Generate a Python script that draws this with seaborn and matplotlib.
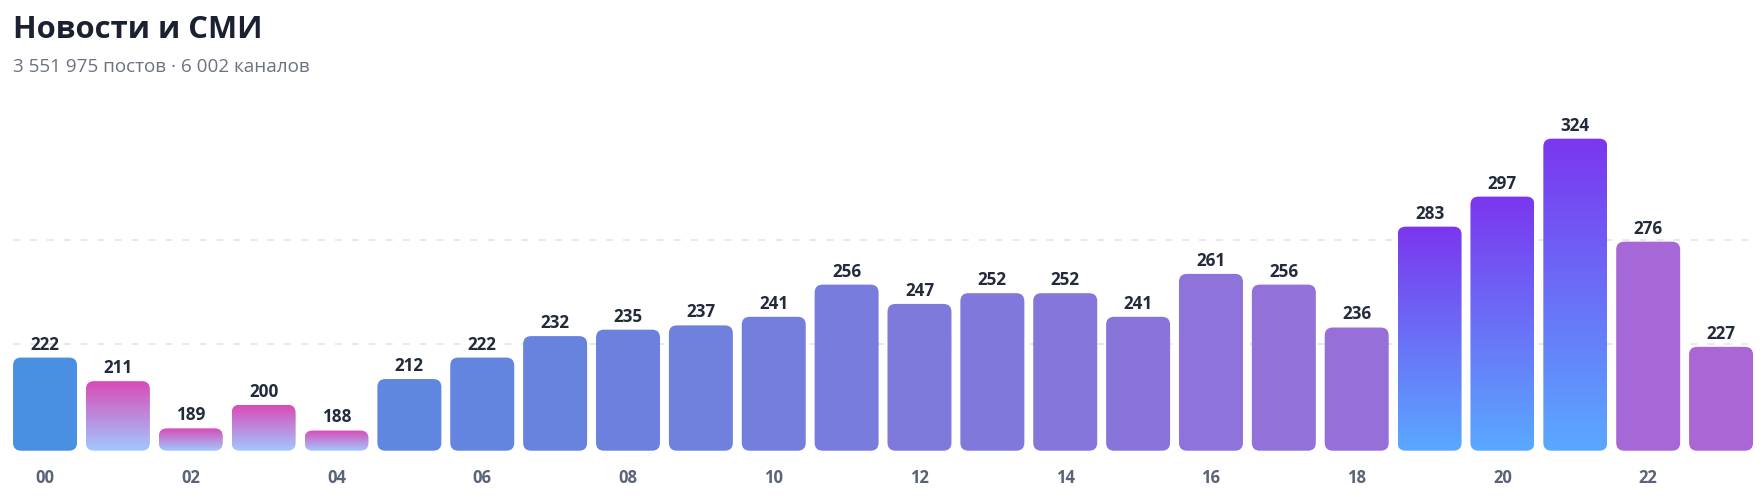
import numpy as np
import pandas as pd
import matplotlib
matplotlib.use("Agg")
import matplotlib.pyplot as plt
import seaborn as sns
from matplotlib.patches import FancyBboxPatch
from matplotlib.transforms import IdentityTransform
from matplotlib.colors import LinearSegmentedColormap, to_rgb

# ---- data ----
title = "Новости и СМИ"
subtitle = "3 551 975 постов · 6 002 каналов"
hours = [f"{h:02d}" for h in range(24)]
values = [222, 211, 189, 200, 188, 212, 222, 232, 235, 237, 241, 256,
          247, 252, 252, 241, 261, 256, 236, 283, 297, 324, 276, 227]
tick_hours = hours[::2]

# ---- style ----
sns.set_theme(style="white")
plt.rcParams['font.family'] = ['Open Sans', 'DejaVu Sans']
plt.rcParams['lines.scale_dashes'] = False

W, H = 1761, 496
fig = plt.figure(figsize=(W / 100, H / 100), dpi=100)
ax = fig.add_axes([8.6 / W, (H - 450.7) / H, 1748.9 / W, (450.7 - 90) / H])

df = pd.DataFrame({"hour": hours, "value": values})
sns.barplot(data=df, x="hour", y="value", order=hours, width=0.878,
            color="#4a90e2", saturation=1, ax=ax, zorder=2)

ymin = min(values) * 0.95
ymax = max(values) * 1.07
ax.set_xlim(-0.5, 23.5)
ax.set_ylim(ymin, ymax)

# grid lines
for gv in (228.2, 276.6):
    ax.axhline(gv, xmin=0.0025, xmax=0.9975, color="#e6e6ef", lw=1.3,
               dashes=(5, 7.2), zorder=0)

# highlight categories: four lowest and three highest hours get gradients
order_idx = np.argsort(values)
low_set = set(order_idx[:4].tolist())
high_set = set(order_idx[-3:].tolist())

c_start = np.array(to_rgb("#4a90e2"))
c_end = np.array(to_rgb("#ab66d6"))
low_cmap = LinearSegmentedColormap.from_list("low", ["#a0c9ff", "#d94bb8"])
high_cmap = LinearSegmentedColormap.from_list("high", ["#5aa9ff", "#7b36ee"])
grad = np.linspace(0, 1, 256).reshape(-1, 1)

fig.canvas.draw()
bars = list(ax.patches)
radius = 8
for i, p in enumerate(bars):
    x0, w, v = p.get_x(), p.get_width(), p.get_height() + p.get_y()
    (dx0, dy0) = ax.transData.transform((x0, ymin))
    (dx1, dy1) = ax.transData.transform((x0 + w, v))
    p.set_visible(False)
    t = i / (len(bars) - 1)
    col = c_start + (c_end - c_start) * t
    rp = FancyBboxPatch((dx0, dy0), dx1 - dx0, dy1 - dy0,
                        boxstyle=f"round,pad=0,rounding_size={radius}",
                        transform=IdentityTransform(), linewidth=0,
                        facecolor=col, zorder=2)
    ax.add_patch(rp)
    if i in low_set or i in high_set:
        rp.set_facecolor("none")
        cmap = low_cmap if i in low_set else high_cmap
        im = ax.imshow(grad, extent=[x0, x0 + w, ymin, v], origin="lower",
                       aspect="auto", cmap=cmap, zorder=2.5)
        im.set_clip_path(rp)
    ax.annotate(str(values[i]), (i, v), xytext=(0, 5.8), textcoords="offset points",
                ha="center", va="baseline", fontsize=12.3, fontweight="bold",
                color="#222a3c", zorder=4)

ax.set_xlim(-0.5, 23.5)
ax.set_ylim(ymin, ymax)
ax.set_xticks([hours.index(h) for h in tick_hours])
ax.set_xticklabels(tick_hours, fontsize=12, fontweight="bold", color="#5b6377")
ax.set_yticks([])
ax.tick_params(axis="x", length=0, pad=13)
ax.set_xlabel("")
ax.set_ylabel("")
for s in ax.spines.values():
    s.set_visible(False)

fig.text(13 / W, 1 - 38.3 / H, title, fontsize=22.3, fontweight="bold",
         color="#1b2131", ha="left", va="baseline")
fig.text(13 / W, 1 - 71.5 / H, subtitle, fontsize=13.6, color="#6b7280",
         ha="left", va="baseline")

fig.savefig("out.png", dpi=100)
